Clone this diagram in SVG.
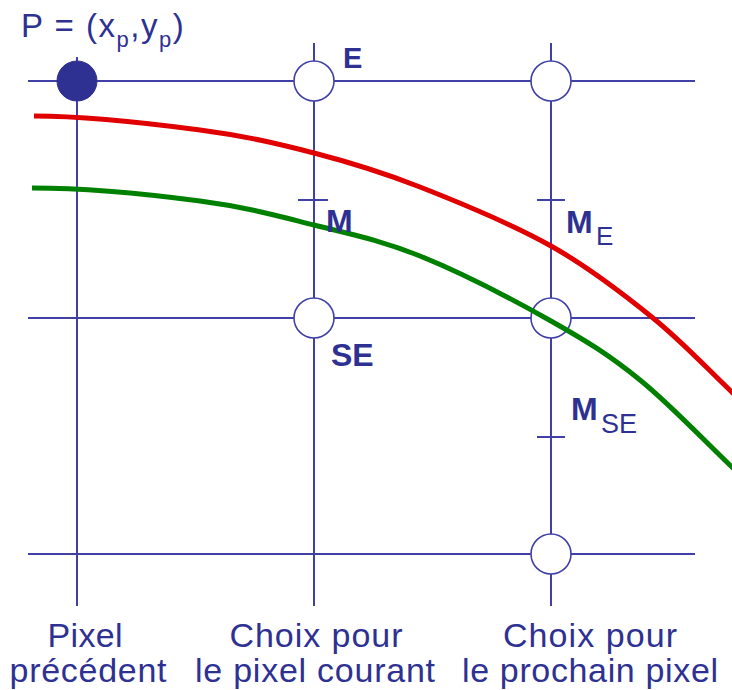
<svg xmlns="http://www.w3.org/2000/svg" width="732" height="690" viewBox="0 0 732 690">
<style>
.grid line{stroke:#4040a6;stroke-width:2;fill:none}
.node{fill:#ffffff;stroke:#4040a6;stroke-width:1.6}
.filled{fill:#2e3192;stroke:#2e3192;stroke-width:1}
.curve{fill:none;stroke-width:5;stroke-linecap:butt;stroke-linejoin:round}
text{font-family:"Liberation Sans",Arial,Helvetica,sans-serif;fill:#2e3192}
.lbl{font-weight:bold;font-size:32px}
.cap{font-size:34px;text-anchor:middle}
</style>
<rect x="0" y="0" width="732" height="690" fill="#ffffff"/>
<g id="connectors" class="grid">
<line x1="28" y1="81" x2="695" y2="81"/>
<line x1="28" y1="318" x2="695" y2="318"/>
<line x1="28" y1="554" x2="695" y2="554"/>
<line x1="77" y1="57" x2="77" y2="606"/>
<line x1="314" y1="43" x2="314" y2="606"/>
<line x1="551" y1="43" x2="551" y2="606"/>
<line x1="298" y1="200" x2="328" y2="200"/>
<line x1="537" y1="200" x2="565" y2="200"/>
<line x1="537" y1="437" x2="565" y2="437"/>
</g>
<g id="P"><circle class="filled" cx="77" cy="81" r="20"/></g>
<g id="E"><circle class="node" cx="314" cy="81" r="20"/></g>
<g id="NE"><circle class="node" cx="551" cy="81" r="20"/></g>
<g id="SE"><circle class="node" cx="314" cy="318" r="20"/></g>
<g id="NSE"><circle class="node" cx="551" cy="318" r="20"/></g>
<g id="SSE"><circle class="node" cx="551" cy="554" r="20"/></g>
<g id="curves">
<path class="curve" stroke="#e00000" d="M34,116 C89.3,116 153.3,123.8 200,130 C246.7,136.2 277.3,143.5 314,153 C350.7,162.5 380.5,171.5 420,187 C459.5,202.5 512.2,224.2 551,246 C589.8,267.8 622.2,293 653,318 C683.8,343 708.3,370 736,396"/>
<path class="curve" stroke="#008000" d="M32,188 C88,188 153,194.8 200,201 C247,207.2 277.3,215.8 314,225 C350.7,234.2 380.5,240 420,256 C459.5,272 514.3,300.3 551,321 C587.7,341.7 609.3,355.2 640,380 C670.7,404.8 703.3,440 735,470"/>
</g>
<g id="labels">
<text x="21" y="37" font-size="33" letter-spacing="1.5">P = (x<tspan font-size="22" dy="10">p</tspan><tspan dy="-10">,y</tspan><tspan font-size="22" dy="10">p</tspan><tspan dy="-10">)</tspan></text>
<text class="lbl" x="343" y="68" style="font-size:29px">E</text>
<text class="lbl" x="326" y="232">M</text>
<text class="lbl" x="331" y="366">SE</text>
<text class="lbl" x="566" y="233">M<tspan x="596" y="245" font-weight="normal" font-size="26">E</tspan></text>
<text class="lbl" x="571" y="420">M<tspan x="601" y="433" font-weight="normal" font-size="27">SE</tspan></text>
<text class="cap" x="85" y="647" textLength="75" lengthAdjust="spacing">Pixel</text>
<text class="cap" x="88" y="682" textLength="157" lengthAdjust="spacing">précédent</text>
<text class="cap" x="316" y="647" textLength="173" lengthAdjust="spacing">Choix pour</text>
<text class="cap" x="315" y="682" textLength="240" lengthAdjust="spacing">le pixel courant</text>
<text class="cap" x="590" y="647" textLength="174" lengthAdjust="spacing">Choix pour</text>
<text class="cap" x="590" y="682" textLength="256" lengthAdjust="spacing">le prochain pixel</text>
</g>
</svg>
